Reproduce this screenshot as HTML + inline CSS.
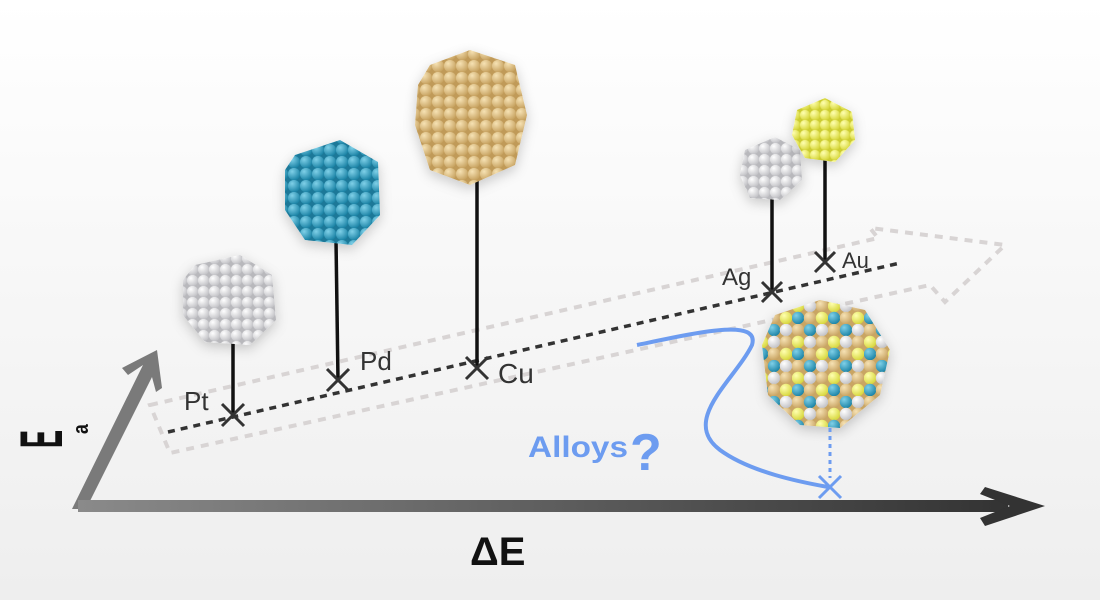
<!DOCTYPE html>
<html><head><meta charset="utf-8"><style>
html,body{margin:0;padding:0;}
body{width:1100px;height:600px;overflow:hidden;background:linear-gradient(#ffffff,#eeeeee);font-family:"Liberation Sans",sans-serif;}
</style></head><body>
<svg width="1100" height="600" viewBox="0 0 1100 600" xmlns="http://www.w3.org/2000/svg">
<defs>
<radialGradient id="gw" cx="35%" cy="30%" r="70%"><stop offset="0" stop-color="#ffffff"/><stop offset="1" stop-color="#c4c4c8"/></radialGradient>
<radialGradient id="gb" cx="35%" cy="30%" r="70%"><stop offset="0" stop-color="#7fd0e8"/><stop offset="1" stop-color="#1f86a8"/></radialGradient>
<radialGradient id="gc" cx="35%" cy="30%" r="70%"><stop offset="0" stop-color="#f6e2b4"/><stop offset="1" stop-color="#c9a564"/></radialGradient>
<radialGradient id="gy" cx="35%" cy="30%" r="70%"><stop offset="0" stop-color="#ffffb0"/><stop offset="1" stop-color="#d8d840"/></radialGradient>
<pattern id="pw" width="11" height="11" patternUnits="userSpaceOnUse"><rect width="11" height="11" fill="#b8b8bc"/><circle cx="5.5" cy="5.5" r="5.6" fill="url(#gw)"/></pattern>
<pattern id="pb" width="12" height="12" patternUnits="userSpaceOnUse"><rect width="12" height="12" fill="#1a7898"/><circle cx="6" cy="6" r="6.1" fill="url(#gb)"/></pattern>
<pattern id="pc" width="12" height="12" patternUnits="userSpaceOnUse"><rect width="12" height="12" fill="#c09a58"/><circle cx="6" cy="6" r="6.1" fill="url(#gc)"/></pattern>
<pattern id="py" width="10" height="10" patternUnits="userSpaceOnUse"><rect width="10" height="10" fill="#cccc30"/><circle cx="5" cy="5" r="5.1" fill="url(#gy)"/></pattern>
<pattern id="pa" width="36" height="36" patternUnits="userSpaceOnUse">
<rect width="36" height="36" fill="#c9a564"/>
<circle cx="6" cy="6" r="6.2" fill="url(#gc)"/><circle cx="18" cy="6" r="6.2" fill="url(#gb)"/><circle cx="30" cy="6" r="6.2" fill="url(#gw)"/>
<circle cx="6" cy="18" r="6.2" fill="url(#gy)"/><circle cx="18" cy="18" r="6.2" fill="url(#gw)"/><circle cx="30" cy="18" r="6.2" fill="url(#gc)"/>
<circle cx="6" cy="30" r="6.2" fill="url(#gb)"/><circle cx="18" cy="30" r="6.2" fill="url(#gc)"/><circle cx="30" cy="30" r="6.2" fill="url(#gy)"/>
</pattern>
<linearGradient id="ax" x1="0" x2="1"><stop offset="0" stop-color="#8a8a8a"/><stop offset="1" stop-color="#333"/></linearGradient>
<filter id="sh" x="-30%" y="-30%" width="160%" height="160%"><feDropShadow dx="0" dy="4" stdDeviation="6" flood-color="#000" flood-opacity="0.2"/></filter>
</defs>

<polygon points="150,405 878,238 870,228 1005,245 945,302 930,285 170,453" fill="none" stroke="#d8d4d4" stroke-width="4" stroke-dasharray="8,7"/>
<line x1="168" y1="432" x2="900" y2="263" stroke="#333" stroke-width="3.5" stroke-dasharray="7,6"/>

<polygon points="72,509 143,365 128,375 122,368 157,350 162,388 156,392 152,377 86,509" fill="#7a7a7a"/>
<rect x="78" y="500" width="930" height="12" fill="url(#ax)"/>
<polygon points="985,487 1045,506 985,526 980,518 1010,506 980,494" fill="#333"/>

<g stroke="#111" stroke-width="3.5">
<line x1="233" y1="340" x2="233" y2="415"/>
<line x1="336" y1="240" x2="338" y2="380"/>
<line x1="477" y1="180" x2="477" y2="368"/>
<line x1="772" y1="195" x2="772" y2="292"/>
<line x1="825" y1="155" x2="825" y2="262"/>
</g>
<g stroke="#333" stroke-width="3">
<path d="M222,404 L244,426 M244,404 L222,426"/>
<path d="M327,369 L349,391 M349,369 L327,391"/>
<path d="M466,357 L488,379 M488,357 L466,379"/>
<path d="M762,282 L782,302 M782,282 L762,302"/>
<path d="M815,252 L835,272 M835,252 L815,272"/>
</g>

<polygon points="195,265 240,255 272,275 276,320 250,345 205,342 183,315 183,280" fill="url(#pw)" filter="url(#sh)"/>
<polygon points="295,155 340,140 378,162 380,215 352,245 305,240 285,210 285,170" fill="url(#pb)" filter="url(#sh)"/>
<polygon points="430,65 470,50 515,65 527,115 515,165 470,185 430,170 415,125 418,85" fill="url(#pc)" filter="url(#sh)"/>
<polygon points="745,150 775,137 800,150 802,180 780,200 750,198 740,175" fill="url(#pw)" filter="url(#sh)"/>
<polygon points="797,110 825,98 852,112 855,140 835,162 805,158 792,135" fill="url(#py)" filter="url(#sh)"/>
<polygon points="775,315 820,300 865,310 890,350 880,395 840,428 800,425 768,395 762,345" fill="url(#pa)" filter="url(#sh)"/>

<path d="M637,345 C700,332 760,318 752,345 C735,380 680,420 720,450 C750,472 800,482 828,487" fill="none" stroke="#6d9cf0" stroke-width="4"/>
<line x1="830" y1="428" x2="830" y2="478" stroke="#6d9cf0" stroke-width="3" stroke-dasharray="4,4"/>
<path d="M819,476 L841,498 M841,476 L819,498" stroke="#6d9cf0" stroke-width="3"/>

<g font-family="Liberation Sans, sans-serif" fill="#333">
<text x="184" y="410" font-size="26">Pt</text>
<text x="360" y="370" font-size="26">Pd</text>
<text x="498" y="383" font-size="28">Cu</text>
<text x="722" y="285" font-size="24">Ag</text>
<text x="842" y="268" font-size="22">Au</text>
</g>
<text x="528" y="457" font-size="30" font-weight="bold" fill="#6d9cf0" font-family="Liberation Sans, sans-serif" textLength="100" lengthAdjust="spacingAndGlyphs">Alloys</text>
<text x="630" y="470" font-size="52" font-weight="bold" fill="#6d9cf0" font-family="Liberation Sans, sans-serif">?</text>
<text x="470" y="565" font-size="40" font-weight="bold" fill="#111" font-family="Liberation Sans, sans-serif">ΔE</text>
<g transform="translate(62,448) rotate(-90) scale(0.45,1)">
<text x="0" y="0" font-size="60" font-weight="bold" fill="#111" font-family="Liberation Sans, sans-serif">E</text>
</g>
<g transform="translate(88,434) rotate(-90) scale(0.8,1)">
<text x="0" y="0" font-size="22" font-weight="bold" fill="#111" font-family="Liberation Sans, sans-serif">a</text>
</g>
</svg>
</body></html>
